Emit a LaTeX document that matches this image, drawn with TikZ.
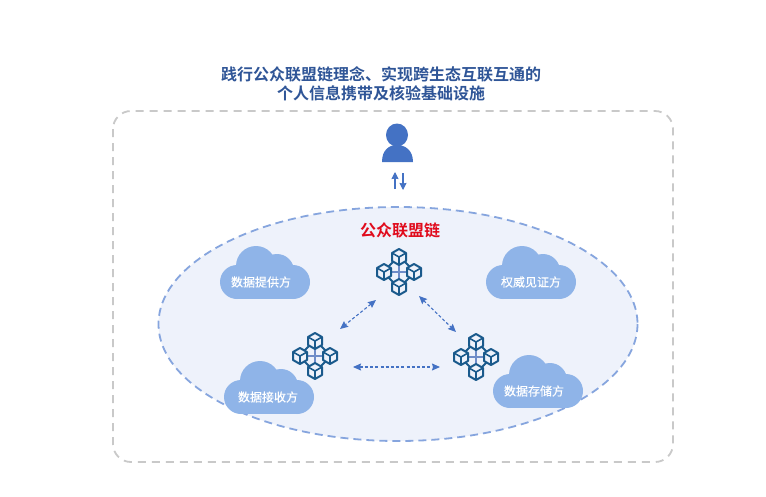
\documentclass[tikz,border=0pt]{standalone}
\usepackage{fontspec}
\setmainfont{Noto Sans CJK SC}[BoldFont={* Bold}]
\newfontfamily\cloudfont{Noto Sans CJK SC}[FakeBold=0.5]
\usetikzlibrary{arrows.meta}
\definecolor{titleblue}{HTML}{2F5597}
\definecolor{personblue}{HTML}{4472C4}
\definecolor{cloudblue}{HTML}{8FB4E8}
\definecolor{ellipsefill}{HTML}{EEF2FB}
\definecolor{ellipseline}{HTML}{86A5DE}
\definecolor{cubeblue}{HTML}{1A5A8C}
\definecolor{gridblue}{HTML}{6E8CC8}
\definecolor{framegray}{HTML}{C9C9C9}
\definecolor{chainred}{HTML}{E00B1C}
\tikzset{
    titletext/.style={font=\fontsize{16}{19}\selectfont\bfseries, text=titleblue, inner sep=0pt},
    cloudtext/.style={font=\fontsize{12}{14}\cloudfont, text=white, inner sep=0pt},
    redtext/.style={font=\fontsize{16}{19}\selectfont\bfseries, text=chainred, inner sep=0pt},
    linkarrow/.style={{Stealth[length=8pt,width=7pt,inset=1pt]}-{Stealth[length=8pt,width=7pt,inset=1pt]}, personblue, line width=1.1pt, dash pattern=on 3pt off 2.2pt},
    userarrow/.style={-{Stealth[length=7pt,width=7pt,inset=0.5pt]}, personblue, line width=1.1pt},
    cube/.pic={
        \draw[cubeblue, line width=2pt, line join=round, fill=ellipsefill]
            (0,-8) -- (7,-4) -- (7,4) -- (0,8) -- (-7,4) -- (-7,-4) -- cycle;
        \draw[cubeblue, line width=1.6pt]
            (-7,-4) -- (0,0) -- (7,-4) (0,0) -- (0,8);
    },
    chain/.pic={
        % The grid in the middle
        \draw[gridblue, line width=1.1pt] (-10,0) -- (10,0) (0,-10) -- (0,10);
        \draw[cubeblue, line width=1.8pt] (-6,-10) -- (-11,-5) (6,-10) -- (11,-5)
            (-6,10) -- (-11,5) (6,10) -- (11,5);
        % The four blocks
        \pic at (0,-15) {cube};
        \pic at (-15,0) {cube};
        \pic at (15,0) {cube};
        \pic at (0,15) {cube};
    },
    cloudpic/.pic={
        \fill[cloudblue] (36,20) circle (20);
        \fill[cloudblue] (57,25) circle (17);
        \fill[cloudblue] (17,36) circle (17);
        \fill[cloudblue] (73,36) circle (17);
        \fill[cloudblue] (17,30) rectangle (73,53);
    }
}

\begin{document}
\begin{tikzpicture}[x=1pt, y=-1pt]
    \useasboundingbox (0,0) rectangle (766,496);
    \fill[white] (0,0) rectangle (766,496);

    % The title
    \node[titletext] (titleA) at (381,74) {践行公众联盟链理念、实现跨生态互联互通的};
    \node[titletext] (titleB) at (381,93) {个人信息携带及核验基础设施};

    % The outer frame
    \draw[framegray, line width=1.8pt, dash pattern=on 8pt off 6pt, rounded corners=18pt]
        (113,111) rectangle (673,462);

    % The user
    \fill[personblue] (397,135) ellipse (11 and 11.5);
    \fill[personblue] (382,162) .. controls (382,150) and (389,145) .. (397,145)
        .. controls (405,145) and (413,150) .. (413,162) -- cycle;
    \coordinate (userUpA) at (395,189);
    \coordinate (userUpB) at (395,172);
    \coordinate (userDownA) at (403,173);
    \coordinate (userDownB) at (403,190);
    \draw[userarrow] (userUpA) -- (userUpB);
    \draw[userarrow] (userDownA) -- (userDownB);

    % The consortium chain
    \draw[ellipseline, fill=ellipsefill, line width=1.8pt, dash pattern=on 8pt off 5pt]
        (398,324) ellipse (239.5 and 117);
    \node[redtext] (chainLabel) at (400,230) {公众联盟链};

    % The clouds
    \pic at (220,246) {cloudpic};
    \node[cloudtext] (cloudA) at (261,282) {数据提供方};
    \pic at (486,246) {cloudpic};
    \node[cloudtext] (cloudB) at (531,282) {权威见证方};
    \pic at (224,361) {cloudpic};
    \node[cloudtext] (cloudC) at (268,397) {数据接收方};
    \pic at (493,355) {cloudpic};
    \node[cloudtext] (cloudD) at (534,391) {数据存储方};

    % The blocks
    \pic at (399,272) {chain};
    \pic at (315,356) {chain};
    \pic at (476,357) {chain};

    % The links
    \coordinate (topL) at (376,300);
    \coordinate (leftT) at (340,329);
    \coordinate (topR) at (419,296);
    \coordinate (rightT) at (456,332);
    \coordinate (leftR) at (353,367);
    \coordinate (rightL) at (440,367);
    \draw[linkarrow] (topL) -- (leftT);
    \draw[linkarrow] (topR) -- (rightT);
    \draw[linkarrow] (leftR) -- (rightL);
\end{tikzpicture}
\end{document}
